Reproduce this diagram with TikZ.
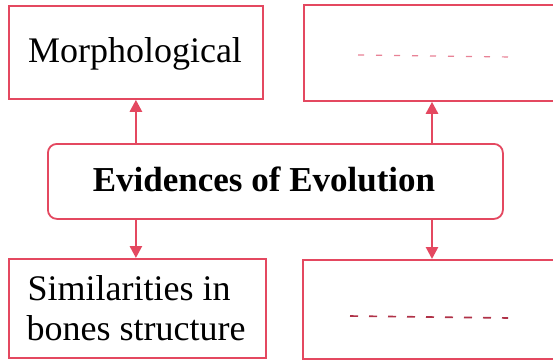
\documentclass[tikz,border=0pt]{standalone}
\usepackage{fontspec}
\setmainfont{Liberation Serif}
\usetikzlibrary{arrows.meta}
\definecolor{boxred}{RGB}{228,72,96}
\definecolor{dashpink}{RGB}{232,130,150}
\definecolor{dashred}{RGB}{176,50,72}
\begin{document}
\begin{tikzpicture}[x=1pt,y=-1pt,
  box/.style={draw=boxred,line width=1.8pt,inner sep=0pt,anchor=north west},
  arr/.style={draw=boxred,line width=2.6pt,-{Triangle[width=12pt,length=12pt]}},
  txt/.style={font=\fontsize{36}{40}\selectfont,text=black}]
\useasboundingbox (0,0) rectangle (553,362);
\fill[white] (0,0) rectangle (553,362);
% boxes
\node[box,minimum width=254pt,minimum height=93pt] (morph) at (8,5) {};
\node[box,minimum width=260pt,minimum height=96pt] (topr) at (303,4) {};
\node[box,rounded corners=9pt,minimum width=455pt,minimum height=75pt] (evid) at (47,143) {};
\node[box,minimum width=257pt,minimum height=99pt] (bones) at (8,258) {};
\node[box,minimum width=260pt,minimum height=99pt] (botr) at (302,259) {};
% texts
\node[txt,anchor=base] (tm) at (135,62) {Morphological};
\node[txt,anchor=base,font=\fontsize{35}{40}\selectfont\bfseries] (te) at (264,191) {Evidences of Evolution};
\node[txt,anchor=base] (tb1) at (129,300) {Similarities in};
\node[txt,anchor=base] (tb2) at (136,340) {bones structure};
% dashed placeholders
\coordinate (d1a) at (358,55);
\coordinate (d1b) at (512,57);
\draw[dashpink,line width=1.2pt,dash pattern=on 6pt off 12pt] (d1a) -- (d1b);
\coordinate (d2a) at (350,316);
\coordinate (d2b) at (508,318);
\draw[dashred,line width=1.6pt,dash pattern=on 8pt off 11pt] (d2a) -- (d2b);
% arrows
\draw[arr] (evid.north -| morph.south) -- (morph.south);
\draw[arr] (evid.south -| morph.south) -- (bones.north -| morph.south);
\coordinate (rx) at (432,0);
\draw[arr] (evid.north -| rx) -- (topr.south -| rx);
\draw[arr] (evid.south -| rx) -- (botr.north -| rx);
\end{tikzpicture}
\end{document}
